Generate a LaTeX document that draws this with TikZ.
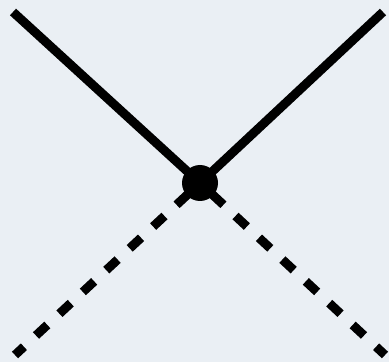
\documentclass[tikz,border=0pt]{standalone}
\usepackage{tikz}
\usetikzlibrary{positioning}
\definecolor{paper}{RGB}{234,239,244}

\begin{document}
\begin{tikzpicture}[x=0.02cm,y=0.02cm]
        \fill[paper] (0,0) rectangle (389,362);
        \useasboundingbox (0,0) rectangle (389,362);
        \coordinate (V) at (200,179);
        \coordinate (A) at (13,350);
        \coordinate (B) at (383,350);
        \coordinate (C) at (15,7);
        \coordinate (D) at (385,7);
        \draw[line width=5.1pt] (A)--(V)--(B);
        \draw[line width=5.1pt,dash pattern=on 0.31cm off 0.33cm,dash phase=0.31cm] (V)--(C);
        \draw[line width=5.1pt,dash pattern=on 0.31cm off 0.33cm,dash phase=0.31cm] (V)--(D);
        \fill (V) circle (18);
    \end{tikzpicture}
\end{document}
